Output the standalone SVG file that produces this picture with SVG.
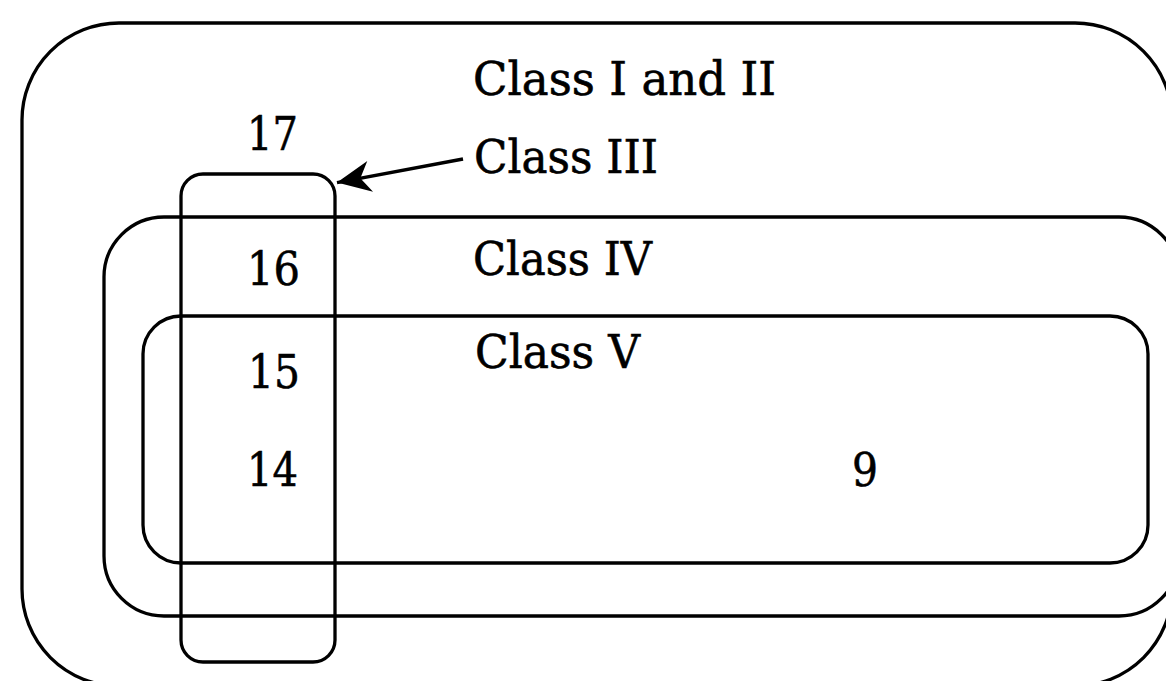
<svg xmlns="http://www.w3.org/2000/svg" width="1166" height="681" viewBox="0 0 1166 681">
  <style>
    .set { fill: none; stroke: #000; stroke-width: 3.3; }
    .lbl { font-family: "DejaVu Serif", "Liberation Serif", serif; font-size: 47px; fill: #000; stroke: #000; stroke-width: 0.6; }
    .arrow { fill: none; stroke: #000; stroke-width: 3.4; }
  </style>
  <defs>
    <marker id="barb" markerUnits="userSpaceOnUse" markerWidth="40" markerHeight="40" viewBox="-30 -15 32 30" refX="0" refY="0" orient="auto">
      <path d="M0,0 L-27,-12.5 L-19,0 L-27,12.5 Z" fill="#000"/>
    </marker>
  </defs>
  <rect width="1166" height="681" fill="#fff"/>

  <!-- Class I and II: the enclosing set -->
  <g id="class-1-2">
    <rect class="set" x="22" y="23" width="1150" height="663" rx="97" ry="97"/>
    <text class="lbl" x="473" y="95" textLength="303" lengthAdjust="spacingAndGlyphs">Class I and II</text>
    <text class="lbl" x="247" y="150" textLength="51" lengthAdjust="spacingAndGlyphs">17</text>
  </g>

  <!-- Class IV -->
  <g id="class-4">
    <rect class="set" x="104" y="217" width="1075" height="399" rx="60" ry="60"/>
    <text class="lbl" x="473" y="275" textLength="179" lengthAdjust="spacingAndGlyphs">Class IV</text>
    <text class="lbl" x="247" y="285" textLength="53" lengthAdjust="spacingAndGlyphs">16</text>
  </g>

  <!-- Class V -->
  <g id="class-5">
    <rect class="set" x="143" y="316" width="1005" height="247" rx="38" ry="38"/>
    <text class="lbl" x="475" y="368" textLength="165" lengthAdjust="spacingAndGlyphs">Class V</text>
    <text class="lbl" x="248" y="388" textLength="52" lengthAdjust="spacingAndGlyphs">15</text>
    <text class="lbl" x="247" y="486" textLength="51" lengthAdjust="spacingAndGlyphs">14</text>
    <text class="lbl" x="852" y="486" textLength="26" lengthAdjust="spacingAndGlyphs">9</text>
  </g>

  <!-- Class III: the narrow vertical set -->
  <g id="class-3">
    <rect class="set" x="181" y="174" width="154" height="488" rx="22" ry="22"/>
    <text class="lbl" x="474" y="173" textLength="184" lengthAdjust="spacingAndGlyphs">Class III</text>
  </g>

  <!-- pointer from the Class III label to its set -->
  <g id="connectors">
    <line class="arrow" x1="463" y1="159" x2="337" y2="182.6" marker-end="url(#barb)"/>
  </g>
</svg>
